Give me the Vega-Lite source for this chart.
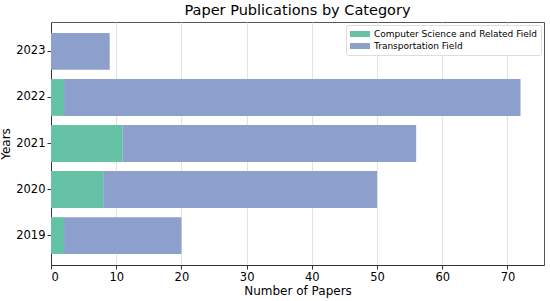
{
  "$schema": "https://vega.github.io/schema/vega-lite/v6.json",
  "autosize": {"type": "none"},
  "width": 493,
  "height": 243,
  "padding": {"left": 51, "top": 22, "right": 6, "bottom": 36},
  "background": "white",
  "title": {"text": "Paper Publications by Category", "font": "DejaVu Sans", "fontSize": 14.5, "fontWeight": "normal", "color": "#000", "offset": 4},
  "data": {"values": [
    {"year": "2019", "category": "Computer Science and Related Field", "papers": 2, "ord": 1},
    {"year": "2019", "category": "Transportation Field", "papers": 18, "ord": 2},
    {"year": "2020", "category": "Computer Science and Related Field", "papers": 8, "ord": 1},
    {"year": "2020", "category": "Transportation Field", "papers": 42, "ord": 2},
    {"year": "2021", "category": "Computer Science and Related Field", "papers": 11, "ord": 1},
    {"year": "2021", "category": "Transportation Field", "papers": 45, "ord": 2},
    {"year": "2022", "category": "Computer Science and Related Field", "papers": 2, "ord": 1},
    {"year": "2022", "category": "Transportation Field", "papers": 70, "ord": 2},
    {"year": "2023", "category": "Computer Science and Related Field", "papers": 0, "ord": 1},
    {"year": "2023", "category": "Transportation Field", "papers": 9, "ord": 2}
  ]},
  "mark": {"type": "bar"},
  "encoding": {
    "y": {"field": "year", "type": "ordinal", "sort": "descending",
      "scale": {"paddingInner": 0.2, "paddingOuter": 0.24},
      "axis": {"title": "Years", "titleFont": "DejaVu Sans", "titleFontSize": 12, "titleFontWeight": "normal", "titleColor": "#000", "labelFont": "DejaVu Sans", "labelFontSize": 11.5, "labelColor": "#000", "tickColor": "#333", "tickSize": 4, "domainColor": "#333", "labelPadding": 2, "titlePadding": 3}},
    "x": {"field": "papers", "type": "quantitative", "stack": "zero",
      "scale": {"domain": [0, 75.6], "nice": false},
      "axis": {"title": "Number of Papers", "values": [0, 10, 20, 30, 40, 50, 60, 70], "titleFont": "DejaVu Sans", "titleFontSize": 12, "titleFontWeight": "normal", "titleColor": "#000", "labelFont": "DejaVu Sans", "labelFontSize": 11.5, "labelColor": "#000", "tickColor": "#333", "tickSize": 4, "domainColor": "#333", "grid": true, "gridColor": "#e3e3e3", "labelPadding": 2, "titlePadding": 3}},
    "color": {"field": "category", "type": "nominal",
      "scale": {"domain": ["Computer Science and Related Field", "Transportation Field"], "range": ["#66c2a5", "#8da0cb"]},
      "legend": {"title": null, "orient": "top-right", "offset": 3, "labelFont": "DejaVu Sans", "labelFontSize": 9, "labelLimit": 0, "labelColor": "#000", "symbolType": "M-1,-0.6H3V0.6H-1Z", "symbolSize": 100, "symbolStrokeWidth": 0, "symbolOpacity": 1, "fillColor": "white", "strokeColor": "#ddd", "cornerRadius": 2, "padding": 4, "rowPadding": 2, "labelOffset": 14}},
    "order": {"field": "ord", "type": "quantitative"}
  },
  "config": {"view": {"stroke": "#555", "strokeWidth": 1}, "axis": {"gridOpacity": 1}}
}
